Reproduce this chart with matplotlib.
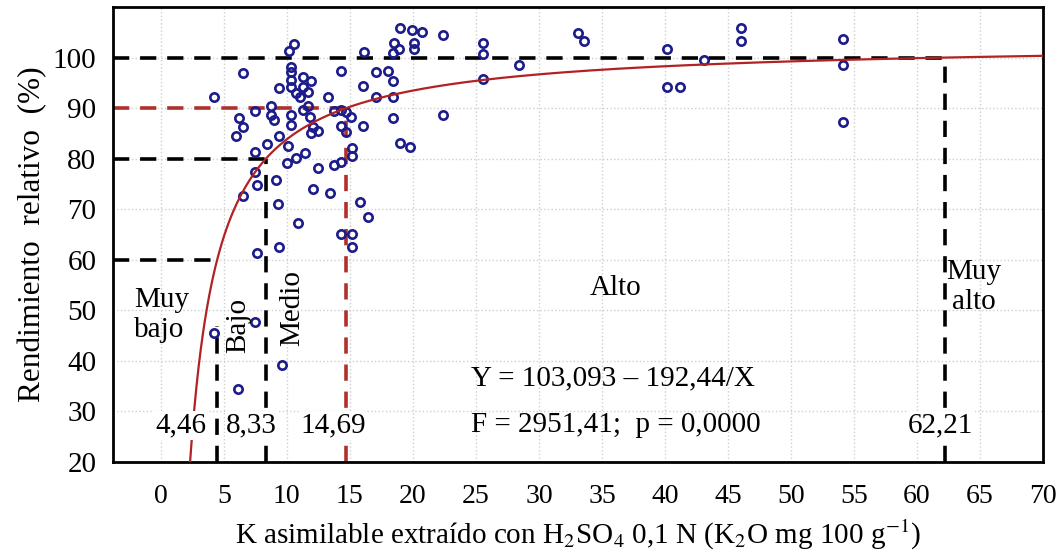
import numpy as np
import matplotlib.pyplot as plt

plt.rcParams['font.family'] = ['Liberation Serif', 'DejaVu Serif']
plt.rcParams['mathtext.fontset'] = 'stix'

# datos: K asimilable (x) y rendimiento relativo (y)
k_asim = [4.2, 6.5, 6.2, 6.5, 6.0, 7.5, 8.7, 8.7, 9.0, 7.5, 8.4, 9.4, 10.1, 10.3, 10.3,
          10.2, 10.6, 10.3, 10.3, 10.3, 9.4, 10.3, 10.7, 11.3, 11.9, 11.3, 11.7, 11.0,
          11.7, 11.3, 11.8, 12.1, 11.9, 12.5, 13.3, 13.7, 14.3, 14.7, 15.1, 14.3, 14.7,
          16.0, 14.3, 16.0, 16.1, 17.1, 18.0, 18.4, 17.1, 18.4, 18.4, 19.0, 19.8, 19.0,
          19.9, 20.7, 22.4, 18.5, 18.9, 18.4, 20.1, 20.1, 22.4, 25.6, 25.6, 25.6, 28.4,
          33.1, 33.6, 40.2, 40.2, 41.2, 43.1, 46.0, 46.0, 54.1, 54.1, 54.1,
          10.0, 10.7, 11.4, 12.5, 13.7, 14.3, 15.2, 15.2, 7.5, 6.5, 9.1, 9.3, 12.1,
          13.4, 10.9, 14.3, 15.2, 15.2, 15.8, 16.4, 9.4, 7.6, 7.6, 4.2, 7.5, 9.6, 6.1]
rend_rel = [92.2, 96.9, 88.0, 86.3, 84.5, 89.4, 90.4, 88.6, 87.6, 81.3, 82.9, 84.5, 82.5, 86.7, 88.6,
            101.3, 102.7, 98.1, 97.1, 95.6, 94.0, 94.2, 93.0, 96.1, 95.3, 94.2, 93.2, 92.2,
            90.4, 89.6, 88.2, 86.3, 85.1, 85.4, 92.2, 89.4, 89.6, 89.2, 88.2, 86.5, 85.3,
            86.5, 97.3, 94.4, 101.1, 97.1, 97.3, 95.3, 92.2, 92.2, 88.0, 83.1, 82.3, 105.8,
            105.4, 105.0, 104.5, 102.9, 101.7, 100.9, 102.9, 101.7, 88.6, 102.9, 100.7, 95.8, 98.5,
            104.9, 103.3, 101.7, 94.2, 94.2, 99.5, 105.8, 103.3, 103.7, 98.5, 87.2,
            79.1, 80.1, 81.1, 78.1, 78.7, 79.3, 82.1, 80.5, 77.4, 72.6, 75.8, 71.0, 74.0,
            73.2, 67.3, 65.1, 65.1, 62.5, 71.4, 68.5, 62.5, 61.3, 74.8, 45.5, 47.7, 39.2, 34.4]

# modelo ajustado Y = a - b/X
a, b = 103.093, 192.44

# niveles criticos
umbral_x = [4.46, 8.33, 14.69, 62.21]
umbral_y = [60, 80, 90, 100]
umbral_txt = ['4,46', '8,33', '14,69', '62,21']
umbral_col = ['black', 'black', '#b0302c', 'black']

x_ticks = list(range(0, 75, 5))
y_ticks = list(range(20, 110, 10))

fig = plt.figure(figsize=(10.64, 5.55), dpi=100)
ax = fig.add_axes([113 / 1064, 93 / 555, 930 / 1064, 455 / 555])
ax.set_xlim(-3.8, 70)
ax.set_ylim(20, 110)

ax.set_xticks(x_ticks)
ax.set_yticks(y_ticks)
ax.tick_params(axis='both', length=0, labelsize=21)
ax.tick_params(axis='x', pad=16, labelsize=20)
ax.tick_params(axis='y', pad=12)
ax.grid(True, color='#cfcfcf', linestyle=':', linewidth=1)
for s in ax.spines.values():
    s.set_linewidth(2)

# lineas de corte
x0 = ax.get_xlim()[0]
for i in range(len(umbral_x)):
    ux, uy, c = umbral_x[i], umbral_y[i], umbral_col[i]
    ax.plot([x0, ux], [uy, uy], color=c, lw=2.6, ls=(0, (4.5, 3)), zorder=2)
    top = 47 if i == 0 else uy
    ax.plot([ux, ux], [20, top], color=c, lw=2.6, ls=(0, (4.5, 3)), zorder=2)

ax.plot(k_asim, rend_rel, 'o', ms=6, mfc='none', mec='#1c1c8a', mew=1.9, zorder=3)

xc = np.linspace(b / (a - 20), 70, 400)
ax.plot(xc, a - b / xc, color='#b22222', lw=1.6, zorder=4)

# etiquetas de niveles
lbl_x = [1.6, 7.2, 13.65, 61.9]
for i in range(len(umbral_txt)):
    ax.text(lbl_x[i], 27.3, umbral_txt[i], fontsize=21, ha='center', va='center', zorder=5,
            bbox=dict(facecolor='white', edgecolor='none', pad=1))

ax.text(-2.1, 49, 'Muy\nbajo', fontsize=21, ha='left', va='center', zorder=5)
ax.text(6.1, 47.1, 'Bajo', fontsize=21, ha='center', va='center', rotation=90, zorder=5)
ax.text(10.4, 50.5, 'Medio', fontsize=21, ha='center', va='center', rotation=90, zorder=5)
ax.text(36.1, 54.4, 'Alto', fontsize=21, ha='center', va='center', zorder=5)
ax.text(64.5, 54.6, 'Muy\nalto', fontsize=21, ha='center', va='center', zorder=5)
ax.text(24.6, 36.6, 'Y = 103,093 – 192,44/X', fontsize=21, ha='left', va='center', zorder=5)
ax.text(24.6, 27.3, 'F = 2951,41;  p = 0,0000', fontsize=21, ha='left', va='center', zorder=5)

ax.set_xlabel(r'K asimilable extraído con H$_2$SO$_4$ 0,1 N (K$_2$O mg 100 g$^{-1}$)',
              fontsize=21, labelpad=6)
ax.set_ylabel('Rendimiento  relativo  (%)', fontsize=22.5, labelpad=4)

fig.savefig('out.png', dpi=100)
